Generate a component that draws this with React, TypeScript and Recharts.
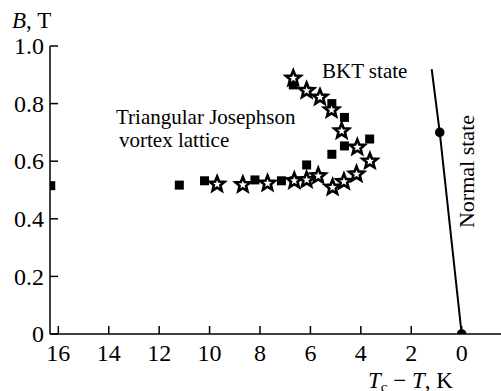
import { ScatterChart, Scatter, XAxis, YAxis } from "recharts";

// filled squares
const squareX = [16.3, 11.2, 10.2, 8.2, 7.15, 6.65, 6.15, 5.15, 4.65, 3.65, 4.65, 5.15, 6.68];
const squareB = [0.515, 0.517, 0.532, 0.535, 0.532, 0.532, 0.587, 0.624, 0.653, 0.677, 0.752, 0.8, 0.865];

// open stars
const starX = [9.7, 8.68, 7.7, 6.64, 6.15, 5.69, 5.12, 4.67, 4.17, 3.64, 4.14, 4.76, 5.16, 5.62, 6.15, 6.68];
const starB = [0.52, 0.518, 0.523, 0.532, 0.535, 0.549, 0.509, 0.529, 0.555, 0.6, 0.648, 0.705, 0.778, 0.822, 0.845, 0.888];

// normal-state boundary
const lineX = [0, 0.87, 1.19];
const lineB = [0, 0.7, 0.92];
const dotX = [0, 0.87];
const dotB = [0, 0.7];

const xTicks = [16, 14, 12, 10, 8, 6, 4, 2, 0];
const yTicks = [0, 0.2, 0.4, 0.6, 0.8, 1.0];
const yTickLabels = ["0", "0.2", "0.4", "0.6", "0.8", "1.0"];

const zip = (xs: number[], ys: number[]) => xs.map((x, i) => ({ x, y: ys[i] }));
const squares = zip(squareX, squareB);
const stars = zip(starX, starB);
const lineData = zip(lineX, lineB);
const dots = zip(dotX, dotB);

const FONT = "Liberation Serif, Times New Roman, serif";
const TICK = 8;

const Square = (p: any) => (
  <rect x={p.cx - 4.5} y={p.cy - 4.5} width={9} height={9} fill="#000" />
);

const Star = (p: any) => {
  const pts: string[] = [];
  for (let i = 0; i < 10; i++) {
    const r = i % 2 === 0 ? 7.8 : 3.4;
    const a = -Math.PI / 2 + (i * Math.PI) / 5;
    pts.push(`${p.cx + r * Math.cos(a)},${p.cy + r * Math.sin(a)}`);
  }
  return <polygon points={pts.join(" ")} fill="#fff" stroke="#000" strokeWidth={2.6} />;
};

const Dot = (p: any) => <circle cx={p.cx} cy={p.cy} r={4.8} fill="#000" />;
const Nothing = () => <g />;

const BottomTick = (p: any) => (
  <g>
    <line x1={p.x} x2={p.x} y1={p.y} y2={p.y - TICK} stroke="#000" strokeWidth={1.5} />
    <text x={p.x} y={p.y + 10} dy="0.71em" textAnchor="middle" fontSize={24} style={{ fontFamily: FONT }} fill="#000">
      {p.payload.value}
    </text>
  </g>
);

const LeftTick = (p: any) => (
  <g>
    <line x1={p.x} x2={p.x + TICK} y1={p.y} y2={p.y} stroke="#000" strokeWidth={1.5} />
    <text x={p.x - 6} y={p.y} dy="0.34em" textAnchor="end" fontSize={24} style={{ fontFamily: FONT }} fill="#000">
      {yTickLabels[yTicks.indexOf(p.payload.value)]}
    </text>
  </g>
);

const TopTick = (p: any) => (
  <line x1={p.x} x2={p.x} y1={p.y} y2={p.y + TICK} stroke="#000" strokeWidth={1.5} />
);

const RightTick = (p: any) => (
  <line x1={p.x} x2={p.x - TICK} y1={p.y} y2={p.y} stroke="#000" strokeWidth={1.5} />
);

export default function App() {
  const domainX: [number, number] = [-1.56, 16.33];
  return (
    <div style={{ position: "absolute", left: 0, top: 0, width: 501, height: 391, fontFamily: FONT }}>
      <ScatterChart width={501} height={391} margin={{ top: 46, right: 0, bottom: 0, left: 0 }}>
        <XAxis
          xAxisId="b"
          type="number"
          dataKey="x"
          domain={domainX}
          reversed
          allowDataOverflow
          ticks={xTicks}
          interval={0}
          height={57}
          tickSize={0}
          tickMargin={0}
          tickLine={false}
          tick={BottomTick}
          axisLine={{ stroke: "#000", strokeWidth: 1.5 }}
        />
        <XAxis
          xAxisId="t"
          orientation="top"
          type="number"
          dataKey="x"
          domain={domainX}
          reversed
          allowDataOverflow
          ticks={xTicks}
          interval={0}
          height={0}
          tickSize={0}
          tickMargin={0}
          tickLine={false}
          tick={TopTick}
          axisLine={{ stroke: "#000", strokeWidth: 1.5 }}
        />
        <YAxis
          yAxisId="l"
          type="number"
          dataKey="y"
          domain={[0, 1]}
          allowDataOverflow
          ticks={yTicks}
          interval={0}
          width={50}
          tickSize={0}
          tickMargin={0}
          tickLine={false}
          tick={LeftTick}
          axisLine={{ stroke: "#000", strokeWidth: 1.5 }}
        />
        <YAxis
          yAxisId="r"
          orientation="right"
          type="number"
          dataKey="y"
          domain={[0, 1]}
          allowDataOverflow
          ticks={yTicks}
          interval={0}
          width={0}
          tickSize={0}
          tickMargin={0}
          tickLine={false}
          tick={RightTick}
          axisLine={false}
        />
        <Scatter xAxisId="t" yAxisId="r" data={squares} shape={Nothing} isAnimationActive={false} />
        <Scatter
          xAxisId="b"
          yAxisId="l"
          data={lineData}
          line={{ stroke: "#000", strokeWidth: 2 }}
          shape={Nothing}
          isAnimationActive={false}
        />
        <Scatter xAxisId="b" yAxisId="l" data={dots} shape={Dot} isAnimationActive={false} />
        <Scatter xAxisId="b" yAxisId="l" data={squares} shape={Square} isAnimationActive={false} />
        <Scatter xAxisId="b" yAxisId="l" data={stars} shape={Star} isAnimationActive={false} />
      </ScatterChart>
      <svg
        width={501}
        height={391}
        style={{ position: "absolute", left: 0, top: 0, pointerEvents: "none", fontFamily: FONT }}
        fill="#000"
      >
        <text x={12} y={27.5} fontSize={23}>
          <tspan fontStyle="italic">B</tspan>, T
        </text>
        <text x={116} y={123.5} fontSize={21}>Triangular Josephson</text>
        <text x={119} y={146.5} fontSize={21}>vortex lattice</text>
        <text x={322} y={77.5} fontSize={21}>BKT state</text>
        <text x={473.5} y={171.5} fontSize={22} textAnchor="middle" transform="rotate(-90 473.5 171.5)">
          Normal state
        </text>
        <text x={368} y={388} fontSize={23}>
          <tspan fontStyle="italic">T</tspan>
          <tspan fontSize={15} dy={4}>c</tspan>
          <tspan dy={-4}> − </tspan>
          <tspan fontStyle="italic">T</tspan>, K
        </text>
      </svg>
    </div>
  );
}
